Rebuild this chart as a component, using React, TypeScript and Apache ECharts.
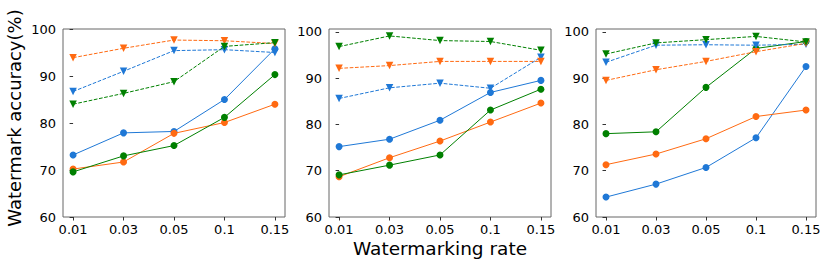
import React, { useEffect, useRef } from "react";
import * as echarts from "echarts";

const rates = ["0.01", "0.03", "0.05", "0.1", "0.15"];
const yTicks = [60, 70, 80, 90, 100];

// Panel 1
const p1BlueSolid = [73.2, 77.9, 78.2, 85.0, 95.8];
const p1OrangeSolid = [70.2, 71.7, 77.8, 80.1, 84.0];
const p1GreenSolid = [69.6, 73.0, 75.2, 81.2, 90.3];
const p1BlueDash = [86.7, 91.0, 95.4, 95.6, 95.0];
const p1OrangeDash = [93.9, 95.9, 97.65, 97.5, 96.9];
const p1GreenDash = [84.0, 86.3, 88.8, 96.3, 97.1];

// Panel 2
const p2BlueSolid = [75.2, 76.8, 80.9, 86.9, 89.5];
const p2OrangeSolid = [68.7, 72.8, 76.4, 80.5, 84.6];
const p2GreenSolid = [69.1, 71.2, 73.4, 83.1, 87.6];
const p2BlueDash = [85.6, 87.9, 88.9, 87.8, 94.5];
const p2OrangeDash = [92.1, 92.7, 93.6, 93.6, 93.6];
const p2GreenDash = [96.8, 99.1, 98.1, 97.9, 96.0];

// Panel 3
const p3BlueSolid = [64.3, 67.1, 70.7, 77.1, 92.5];
const p3OrangeSolid = [71.3, 73.6, 76.9, 81.7, 83.1];
const p3GreenSolid = [78.0, 78.4, 88.0, 96.4, 97.9];
const p3BlueDash = [93.4, 97.1, 97.2, 97.1, 97.3];
const p3OrangeDash = [89.5, 91.8, 93.6, 95.7, 97.5];
const p3GreenDash = [95.2, 97.6, 98.3, 99.0, 97.8];

const yMax = [100, 100.6, 100.6];

const BLUE = "#1f78d6";
const ORANGE = "#ff6a12";
const GREEN = "#008000";
const FONT = "DejaVu Sans";

const panels = [
  [p1BlueSolid, p1OrangeSolid, p1GreenSolid, p1BlueDash, p1OrangeDash, p1GreenDash],
  [p2BlueSolid, p2OrangeSolid, p2GreenSolid, p2BlueDash, p2OrangeDash, p2GreenDash],
  [p3BlueSolid, p3OrangeSolid, p3GreenSolid, p3BlueDash, p3OrangeDash, p3GreenDash],
];
const seriesColors = [BLUE, ORANGE, GREEN, BLUE, ORANGE, GREEN];

const grids = [
  { left: 63, top: 29, width: 222, height: 188 },
  { left: 329, top: 29, width: 222, height: 188 },
  { left: 596, top: 29, width: 220, height: 188 },
];

export default function App() {
  const ref = useRef<HTMLDivElement>(null);
  useEffect(() => {
    document.body.style.margin = "0";
    if (!ref.current) return;
    const chart = echarts.init(ref.current, null, { renderer: "svg" });
    const idx = [0, 1, 2, 3, 4];
    const option: any = {
      animation: false,
      backgroundColor: "#ffffff",
      textStyle: { fontFamily: FONT },
      grid: grids.map((g) => ({
        ...g,
        show: true,
        borderColor: "#666",
        borderWidth: 1,
        backgroundColor: "transparent",
      })),
      xAxis: grids.map((_, i) => ({
        type: "value",
        gridIndex: i,
        min: -0.2,
        max: 4.2,
        axisLine: { show: false },
        splitLine: { show: false },
        axisTick: { show: true, length: 3.5, customValues: idx, lineStyle: { color: "#333" } },
        axisLabel: {
          customValues: idx,
          formatter: (v: number) => rates[Math.round(v)] ?? "",
          fontSize: 13,
          color: "#000",
          fontFamily: FONT,
          margin: 6,
        },
      })),
      yAxis: grids.map((_, i) => ({
        type: "value",
        gridIndex: i,
        min: 60,
        max: yMax[i],
        axisLine: { show: false },
        splitLine: { show: false },
        axisTick: { show: true, length: 3.5, customValues: yTicks, lineStyle: { color: "#333" } },
        axisLabel: {
          customValues: yTicks,
          fontSize: 13,
          color: "#000",
          fontFamily: FONT,
          margin: 7,
        },
      })),
      series: panels.flatMap((arrs, p) =>
        arrs.map((arr, s) => {
          const dashed = s >= 3;
          return {
            type: "line",
            xAxisIndex: p,
            yAxisIndex: p,
            data: arr.map((v, k) => [k, v]),
            symbol: dashed ? "triangle" : "circle",
            symbolRotate: dashed ? 180 : 0,
            symbolSize: dashed ? 7.5 : 7,
            showSymbol: true,
            color: seriesColors[s],
            lineStyle: {
              width: 1,
              color: seriesColors[s],
              type: dashed ? [3.7, 1.6] : "solid",
            },
            itemStyle: { color: seriesColors[s] },
            z: 2 + s,
          };
        })
      ),
      graphic: [
        {
          type: "text",
          x: 14,
          y: 118,
          rotation: Math.PI / 2,
          style: {
            text: "Watermark accuracy(%)",
            fontSize: 18,
            fontFamily: FONT,
            fill: "#000",
            align: "center",
            verticalAlign: "middle",
          },
        },
        {
          type: "text",
          x: 440,
          y: 248,
          style: {
            text: "Watermarking rate",
            fontSize: 18.5,
            fontFamily: FONT,
            fill: "#000",
            align: "center",
            verticalAlign: "middle",
          },
        },
      ],
    };
    chart.setOption(option);
    return () => chart.dispose();
  }, []);
  return <div ref={ref} style={{ width: 830, height: 266 }} />;
}
